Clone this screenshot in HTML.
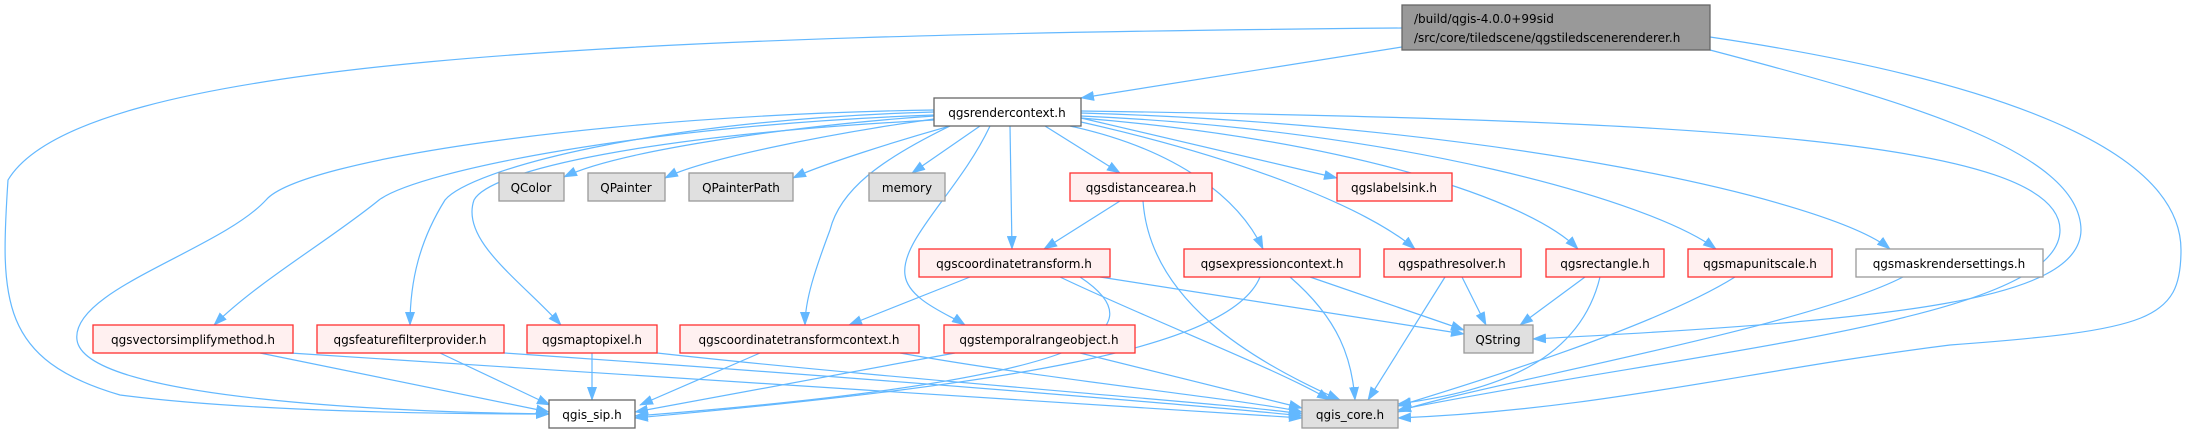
<!DOCTYPE html>
<html><head><meta charset="utf-8"><style>
html,body{margin:0;padding:0;background:#fff;}
svg{display:block;}
text{font-family:"DejaVu Sans","Liberation Sans",sans-serif;font-size:12px;fill:#000;}
.e{fill:none;stroke:#63b8ff;stroke-width:1.2;marker-end:url(#a);}
.r{fill:#fff0f0;stroke:#ff3030;stroke-width:1.3;}
.g{fill:#e0e0e0;stroke:#999;stroke-width:1.3;}
.w{fill:#fff;stroke:#666;stroke-width:1.3;}
.wg{fill:#fff;stroke:#999;stroke-width:1.3;}
</style></head><body>
<svg width="2187" height="434" viewBox="0 0 2187 434" xmlns="http://www.w3.org/2000/svg">
<defs><marker id="a" markerUnits="userSpaceOnUse" markerWidth="14" markerHeight="10" refX="13" refY="5" orient="auto"><path d="M0,0 L14,5 L0,10 z" fill="#63b8ff"/></marker></defs>
<!-- edges -->
<path class="e" d="M1402,47 L1081,98"/>
<path class="e" d="M1402,28 C600,35 80,60 8,180 C0,300 0,360 120,395 C250,412 450,414 549,414"/>
<path class="e" d="M1710,50 C1900,100 2080,150 2081,230 C2080,300 1900,320 1533,339"/>
<path class="e" d="M1710,37 C2000,80 2181,150 2181,250 C2181,320 2150,330 1950,345 C1750,370 1600,410 1398,418"/>
<path class="e" d="M934,116 C800,125 620,150 564,177"/>
<path class="e" d="M934,119 C820,135 700,160 665,178"/>
<path class="e" d="M950,126 C900,140 820,165 793,178"/>
<path class="e" d="M980,126 L912,173"/>
<path class="e" d="M1045,126 L1120,173"/>
<path class="e" d="M1081,118 L1337,178"/>
<path class="e" d="M1010,126 L1012,249"/>
<path class="e" d="M1070,126 C1180,150 1240,200 1263,249"/>
<path class="e" d="M1081,122 C1250,160 1370,210 1415,249"/>
<path class="e" d="M1081,118 C1350,140 1530,200 1578,249"/>
<path class="e" d="M1081,116 C1400,130 1650,200 1716,249"/>
<path class="e" d="M1081,113 C1500,125 1830,200 1890,249"/>
<path class="e" d="M1081,111 C1700,120 2060,140 2060,230 C2060,320 1700,350 1398,410"/>
<path class="e" d="M934,115 C650,125 420,170 379,200 C330,240 260,280 214,325"/>
<path class="e" d="M934,112 C650,120 470,170 445,200 C420,240 410,280 410,325"/>
<path class="e" d="M934,120 C650,135 490,170 474,200 C460,240 520,280 561,325"/>
<path class="e" d="M950,126 C880,160 840,190 830,230 C815,270 805,300 805,325"/>
<path class="e" d="M990,126 C960,190 900,240 905,275 C908,300 950,315 965,325"/>
<path class="e" d="M934,110 C600,115 300,160 266,200 C220,250 70,290 77,340 C85,400 400,412 549,414"/>
<path class="e" d="M1120,201 L1044,249"/>
<path class="e" d="M1143,201 C1150,300 1250,360 1340,400"/>
<path class="e" d="M970,277 L849,325"/>
<path class="e" d="M1100,277 L1464,334"/>
<path class="e" d="M1060,277 C1150,320 1280,370 1330,400"/>
<path class="e" d="M1080,277 C1160,330 1100,380 635,416"/>
<path class="e" d="M1310,277 L1464,330"/>
<path class="e" d="M1290,277 C1340,320 1352,360 1355,400"/>
<path class="e" d="M1260,277 C1230,350 1000,385 635,418"/>
<path class="e" d="M1462,277 L1486,325"/>
<path class="e" d="M1445,277 L1368,400"/>
<path class="e" d="M1585,277 L1520,325"/>
<path class="e" d="M1600,277 C1580,360 1500,390 1398,404"/>
<path class="e" d="M1735,277 C1650,330 1450,390 1398,406"/>
<path class="e" d="M1903,277 C1800,330 1450,390 1398,412"/>
<path class="e" d="M260,353 L549,412"/>
<path class="e" d="M290,353 C700,380 1200,410 1302,418"/>
<path class="e" d="M440,353 L550,405"/>
<path class="e" d="M504,353 C900,380 1250,410 1302,416"/>
<path class="e" d="M592,353 L592,400"/>
<path class="e" d="M657,353 C900,380 1250,405 1302,414"/>
<path class="e" d="M760,353 L640,405"/>
<path class="e" d="M900,353 C1050,380 1250,400 1302,412"/>
<path class="e" d="M955,353 L635,412"/>
<path class="e" d="M1080,353 L1302,408"/>
<!-- nodes -->
<rect x="1402" y="5" width="308" height="45" fill="#999" stroke="#666" stroke-width="1.3"/>
<text x="1414" y="23">/build/qgis-4.0.0+99sid</text>
<text x="1414" y="42">/src/core/tiledscene/qgstiledscenerenderer.h</text>
<rect class="w" x="934" y="98" width="147" height="28"/><text x="1007" y="117" text-anchor="middle">qgsrendercontext.h</text>
<rect class="g" x="499" y="173" width="65" height="28"/><text x="531" y="192" text-anchor="middle">QColor</text>
<rect class="g" x="588" y="173" width="77" height="28"/><text x="626" y="192" text-anchor="middle">QPainter</text>
<rect class="g" x="689" y="173" width="104" height="28"/><text x="741" y="192" text-anchor="middle">QPainterPath</text>
<rect class="g" x="869" y="173" width="76" height="28"/><text x="907" y="192" text-anchor="middle">memory</text>
<rect class="r" x="1070" y="173" width="142" height="28"/><text x="1141" y="192" text-anchor="middle">qgsdistancearea.h</text>
<rect class="r" x="1337" y="173" width="115" height="28"/><text x="1394" y="192" text-anchor="middle">qgslabelsink.h</text>
<rect class="r" x="919" y="249" width="191" height="28"/><text x="1014" y="268" text-anchor="middle">qgscoordinatetransform.h</text>
<rect class="r" x="1184" y="249" width="176" height="28"/><text x="1272" y="268" text-anchor="middle">qgsexpressioncontext.h</text>
<rect class="r" x="1384" y="249" width="137" height="28"/><text x="1452" y="268" text-anchor="middle">qgspathresolver.h</text>
<rect class="r" x="1546" y="249" width="118" height="28"/><text x="1605" y="268" text-anchor="middle">qgsrectangle.h</text>
<rect class="r" x="1688" y="249" width="144" height="28"/><text x="1760" y="268" text-anchor="middle">qgsmapunitscale.h</text>
<rect class="wg" x="1856" y="249" width="187" height="28"/><text x="1949" y="268" text-anchor="middle">qgsmaskrendersettings.h</text>
<rect class="r" x="93" y="325" width="200" height="28"/><text x="193" y="344" text-anchor="middle">qgsvectorsimplifymethod.h</text>
<rect class="r" x="317" y="325" width="187" height="28"/><text x="410" y="344" text-anchor="middle">qgsfeaturefilterprovider.h</text>
<rect class="r" x="527" y="325" width="130" height="28"/><text x="592" y="344" text-anchor="middle">qgsmaptopixel.h</text>
<rect class="r" x="680" y="325" width="239" height="28"/><text x="799" y="344" text-anchor="middle">qgscoordinatetransformcontext.h</text>
<rect class="r" x="944" y="325" width="191" height="28"/><text x="1039" y="344" text-anchor="middle">qgstemporalrangeobject.h</text>
<rect class="g" x="1464" y="325" width="69" height="28"/><text x="1498" y="344" text-anchor="middle">QString</text>
<rect class="w" x="549" y="400" width="86" height="28"/><text x="592" y="419" text-anchor="middle">qgis_sip.h</text>
<rect class="g" x="1302" y="400" width="96" height="28"/><text x="1350" y="419" text-anchor="middle">qgis_core.h</text>
</svg>
</body></html>
